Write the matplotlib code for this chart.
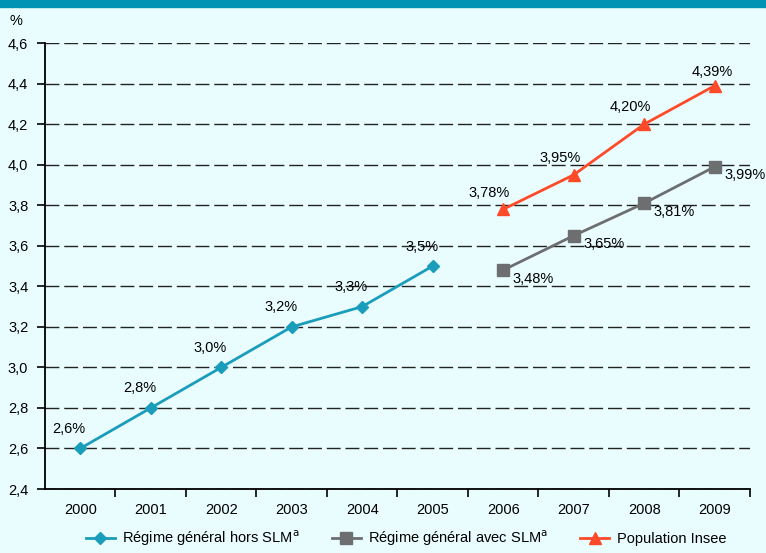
import matplotlib
matplotlib.use("Agg")
import matplotlib.pyplot as plt
from matplotlib.lines import Line2D

plt.rcParams['font.family'] = ['Liberation Sans', 'DejaVu Sans']

years = ["2000", "2001", "2002", "2003", "2004", "2005", "2006", "2007", "2008", "2009"]
hors_slm = [2.6, 2.8, 3.0, 3.2, 3.3, 3.5]
hors_labels = ["2,6%", "2,8%", "3,0%", "3,2%", "3,3%", "3,5%"]
avec_slm = [3.48, 3.65, 3.81, 3.99]
avec_labels = ["3,48%", "3,65%", "3,81%", "3,99%"]
insee = [3.78, 3.95, 4.20, 4.39]
insee_labels = ["3,78%", "3,95%", "4,20%", "4,39%"]
yticks = [2.4, 2.6, 2.8, 3.0, 3.2, 3.4, 3.6, 3.8, 4.0, 4.2, 4.4, 4.6]

bg = "#EAFDFE"
c_blue = "#1A9DBA"
c_gray = "#6D6E70"
c_red = "#FF4A2A"
fs = 10.5

fig = plt.figure(figsize=(7.66, 5.53), dpi=100, facecolor=bg)
ax = fig.add_axes([0.0587, 0.1157, 0.9203, 0.8063], facecolor=bg)

# top band
fig.patches.append(plt.Rectangle((0, 0.987), 1, 0.013, transform=fig.transFigure,
                                 color="#0093B4", zorder=0))

x1 = list(range(0, 6))
x2 = list(range(6, 10))
ax.plot(x1, hors_slm, color=c_blue, lw=2, marker="D", ms=6, zorder=3)
ax.plot(x2, avec_slm, color=c_gray, lw=2, marker="s", ms=8, zorder=3)
ax.plot(x2, insee, color=c_red, lw=2, marker="^", ms=8, zorder=3)

for x, y, t in zip(x1, hors_slm, hors_labels):
    ax.annotate(t, (x, y), xytext=(-8, 9), textcoords="offset points",
                ha="center", va="bottom", fontsize=fs)
for x, y, t in zip(x2, avec_slm, avec_labels):
    ax.annotate(t, (x, y), xytext=(7, -1), textcoords="offset points",
                ha="left", va="top", fontsize=fs)
for i, (x, y, t) in enumerate(zip(x2, insee, insee_labels)):
    off = (-10, 7) if i < 3 else (-2, 5)
    ax.annotate(t, (x, y), xytext=off, textcoords="offset points",
                ha="center", va="bottom", fontsize=fs)

ax.set_xlim(-0.5, 9.5)
ax.set_ylim(2.4, 4.6)
ax.set_yticks(yticks)
ax.set_yticklabels([f"{v:.1f}".replace(".", ",") for v in yticks], fontsize=fs)
ax.set_xticks(range(10))
ax.set_xticklabels(years, fontsize=fs)
ax.tick_params(axis="x", length=0, pad=10)
ax.set_xticks([i - 0.5 for i in range(1, 11)], minor=True)
ax.tick_params(axis="x", which="minor", length=6, width=1.2, direction="out")
ax.tick_params(axis="y", length=6, width=1.2, direction="out", pad=6)

ax.grid(axis="y", color="#222222", linestyle=(0, (10, 3.5)), lw=1)
ax.set_axisbelow(True)
for s in ["top", "right"]:
    ax.spines[s].set_visible(False)
for s in ["left", "bottom"]:
    ax.spines[s].set_linewidth(1.3)

fig.text(0.021, 0.955, "%", fontsize=fs, ha="center")

handles = [
    Line2D([], [], color=c_blue, lw=2, marker="D", ms=6),
    Line2D([], [], color=c_gray, lw=2, marker="s", ms=8),
    Line2D([], [], color=c_red, lw=2, marker="^", ms=8),
]
labels = ["Régime général hors SLM$^{\\mathrm{a}}$", "Régime général avec SLM$^{\\mathrm{a}}$", "Population Insee"]
fig.legend(handles, labels, loc="lower center", bbox_to_anchor=(0.53, -0.015), ncol=3,
           frameon=False, fontsize=fs, handlelength=2.0, handletextpad=0.5,
           columnspacing=2.2)

fig.savefig("out.png", dpi=100, facecolor=bg)
